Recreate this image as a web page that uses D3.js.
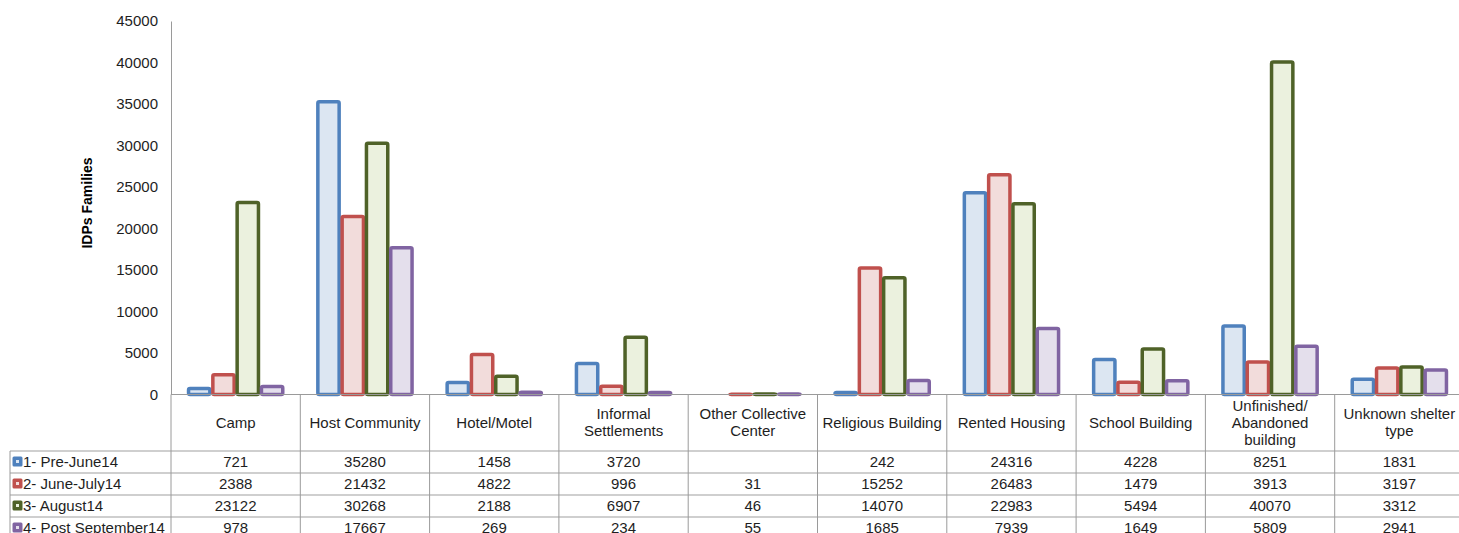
<!DOCTYPE html>
<html>
<head>
<meta charset="utf-8">
<script src="https://cdn.jsdelivr.net/npm/d3@7"></script>
<style>
  html, body { margin: 0; padding: 0; background: #fff; }
  svg { display: block; font-family: "Liberation Sans", Arial, Helvetica, sans-serif; }
</style>
</head>
<body>
<svg id="chart" width="1459" height="533"></svg>
<script>
// Shelter types (row of column headers; "\n" splits header lines)
const categories = [
  "Camp", "Host Community", "Hotel/Motel", "Informal\nSettlements",
  "Other Collective\nCenter", "Religious Building", "Rented Housing",
  "School Building", "Unfinished/\nAbandoned\nbuilding", "Unknown shelter\ntype"
];

const seriesNames = ["1- Pre-June14", "2- June-July14", "3- August14", "4- Post September14"];

// IDP families per shelter type, one array per displacement period
const preJune14     = [721, 35280, 1458, 3720, null, 242, 24316, 4228, 8251, 1831];
const juneJuly14    = [2388, 21432, 4822, 996, 31, 15252, 26483, 1479, 3913, 3197];
const august14      = [23122, 30268, 2188, 6907, 46, 14070, 22983, 5494, 40070, 3312];
const postSept14    = [978, 17667, 269, 234, 55, 1685, 7939, 1649, 5809, 2941];

const yTicks = [0, 5000, 10000, 15000, 20000, 25000, 30000, 35000, 40000, 45000];

const strokeColors = ["#4F81BD", "#C0504D", "#4F6228", "#8064A2"];
const fillColors   = ["#DCE6F2", "#F2DCDB", "#EBF1DE", "#E4DFEC"];

const seriesValues = [preJune14, juneJuly14, august14, postSept14];

const svg = d3.select("#chart");

const plotLeft = 171, plotRight = 1464, plotTop = 21, base = 394.5;
const headerBottom = 451, rowH = 22, tableLeft = 10;
const fs = 15, textColor = "#1e1e1e";

const x0 = d3.scaleBand().domain(categories).range([plotLeft, plotRight]).padding(0);
const x1 = d3.scaleBand().domain(seriesNames).range([0, x0.bandwidth()])
  .paddingInner(0).paddingOuter(0.66);
const y = d3.scaleLinear().domain([0, 45000]).range([base, plotTop]);

// Y axis
const yAxis = d3.axisLeft(y).tickValues(yTicks).tickSize(0).tickPadding(13)
  .tickFormat(d3.format("d"));
const ya = svg.append("g").attr("transform", `translate(${plotLeft},0)`).call(yAxis);
ya.select(".domain").attr("stroke", "#9a9a9a").attr("stroke-width", 1);
ya.selectAll("text").attr("font-size", fs).attr("fill", textColor)
  .attr("font-family", "Liberation Sans, Arial, sans-serif");

svg.append("text")
  .attr("transform", `translate(92,203) rotate(-90)`)
  .attr("text-anchor", "middle")
  .attr("font-size", 14).attr("font-weight", "bold").attr("fill", "#000")
  .text("IDPs Families");

// Bars
const groups = svg.append("g").selectAll("g")
  .data(categories).join("g")
  .attr("transform", d => `translate(${x0(d)},0)`);

groups.selectAll("rect")
  .data((c, ci) => seriesNames.map((s, si) => ({ s, si, v: seriesValues[si][ci] }))
    .filter(d => d.v != null))
  .join("rect")
  .attr("x", d => x1(d.s) + 1.5)
  .attr("width", x1.bandwidth() - 3)
  .attr("y", d => y(d.v))
  .attr("height", d => Math.max(0, base - y(d.v)))
  .attr("rx", 1.5)
  .attr("fill", d => fillColors[d.si])
  .attr("stroke", d => strokeColors[d.si])
  .attr("stroke-width", 3.5);

// Data table grid
const grid = svg.append("g");
const tableBottom = headerBottom + rowH * 4;

// horizontal row lines
for (let i = 0; i <= 4; i++) {
  const yy = headerBottom + rowH * i;
  grid.append("line").attr("x1", tableLeft).attr("x2", plotRight)
    .attr("y1", yy).attr("y2", yy)
    .attr("stroke", "#cfcfcf").attr("stroke-width", 2);
}
// baseline / header top
grid.append("line").attr("x1", plotLeft).attr("x2", plotRight)
  .attr("y1", base).attr("y2", base).attr("stroke", "#9a9a9a").attr("stroke-width", 1);

// vertical column lines
const colEdges = categories.map(c => x0(c)).concat([plotRight]);
colEdges.forEach(xx => {
  grid.append("line").attr("x1", xx).attr("x2", xx)
    .attr("y1", base).attr("y2", tableBottom + 5)
    .attr("stroke", "#9a9a9a").attr("stroke-width", 1);
});
grid.append("line").attr("x1", tableLeft).attr("x2", tableLeft)
  .attr("y1", headerBottom).attr("y2", tableBottom + 5)
  .attr("stroke", "#9a9a9a").attr("stroke-width", 1);

// Column headers
const lineH = 17;
categories.forEach(c => {
  const lines = c.split("\n");
  const cx = x0(c) + x0.bandwidth() / 2;
  const cy = (base + headerBottom) / 2;
  const t = svg.append("text").attr("text-anchor", "middle")
    .attr("font-size", fs).attr("fill", textColor);
  lines.forEach((ln, i) => {
    t.append("tspan").attr("x", cx)
      .attr("y", cy + (i - (lines.length - 1) / 2) * lineH + 5)
      .text(ln);
  });
});

// Row headers with legend keys, and values
seriesNames.forEach((s, si) => {
  const cy = headerBottom + rowH * si + rowH / 2;
  svg.append("rect").attr("x", 12.5).attr("y", cy - 5.5).attr("width", 10).attr("height", 10)
    .attr("rx", 1.5).attr("fill", strokeColors[si]);
  svg.append("rect").attr("x", 16).attr("y", cy - 2).attr("width", 3).attr("height", 3)
    .attr("fill", fillColors[si]);
  svg.append("text").attr("x", 23).attr("y", cy + 5)
    .attr("font-size", fs).attr("fill", textColor).text(s);

  categories.forEach((c, ci) => {
    const v = seriesValues[si][ci];
    if (v == null) return;
    svg.append("text").attr("x", x0(c) + x0.bandwidth() / 2).attr("y", cy + 5)
      .attr("text-anchor", "middle").attr("font-size", fs).attr("fill", textColor)
      .text(v);
  });
});
</script>
</body>
</html>
